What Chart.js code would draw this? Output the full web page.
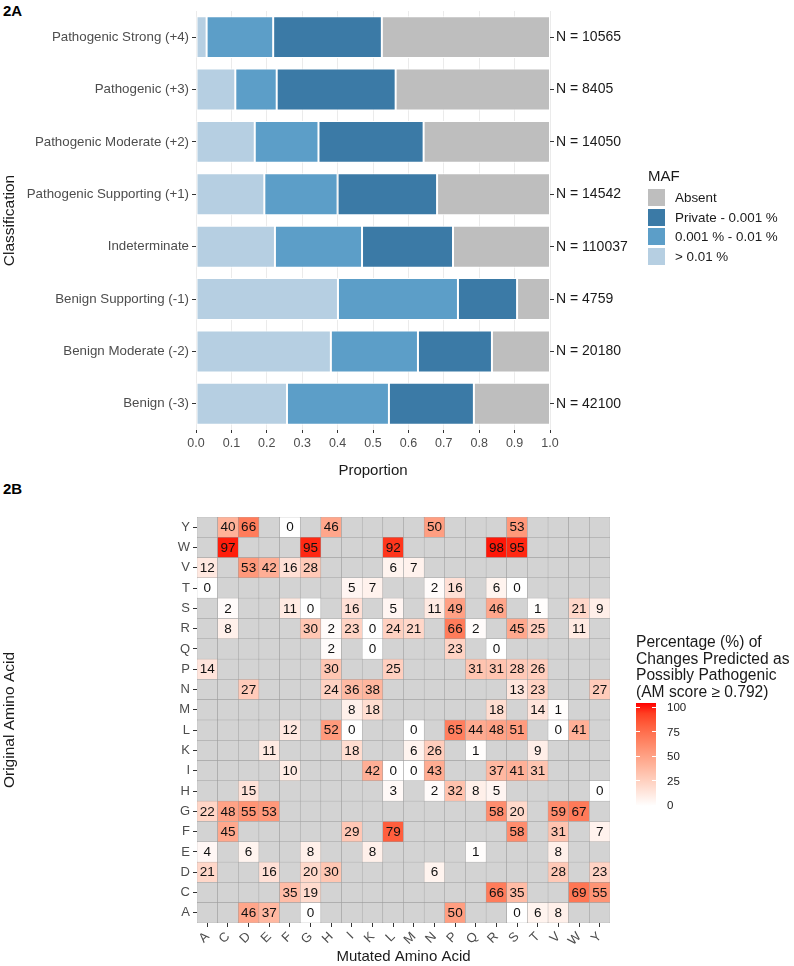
<!DOCTYPE html>
<html>
<head>
<meta charset="utf-8">
<script src="https://cdn.jsdelivr.net/npm/chart.js@4.4.0/dist/chart.umd.min.js"></script>
<style>
  body { margin: 0; background: #fff; font-family: "Liberation Sans", Arial, sans-serif; }
  #wrap { position: relative; width: 794px; height: 966px; overflow: hidden; }
  canvas { position: absolute; left: 0; }
  .tag { position: absolute; left: 3px; font-weight: bold; font-size: 15px; color: #000; }
  .leg { position: absolute; font-size: 13.4px; color: #1a1a1a; }
  .leg .ttl { font-size: 15px; margin-bottom: 4px; }
  .leg .row { display: flex; align-items: center; height: 19.5px; }
  .leg .box { width: 17px; height: 17px; margin-right: 10px; }
  #hmleg { position: absolute; left: 636px; top: 634px; font-size: 15.6px; line-height: 16.7px; color: #1a1a1a; }
  #bar { position: absolute; left: 636px; top: 703px; width: 20px; height: 103px; }
  .cbl { position: absolute; left: 667px; font-size: 11.5px; color: #1a1a1a; transform: translateY(-50%); }
</style>
</head>
<body>
<div id="wrap">
  <div class="tag" style="top:2px">2A</div>
  <div class="tag" style="top:480px">2B</div>
  <canvas id="chart_maf" width="794" height="480" style="top:0"></canvas>
  <canvas id="chart_am" width="794" height="486" style="top:480px"></canvas>
  <div class="leg" id="mafleg" style="left:648px;top:167px"><div class="ttl">MAF</div></div>
  <div id="hmleg">Percentage (%) of<br>Changes Predicted as<br>Possibly Pathogenic<br>(AM score ≥ 0.792)</div>
  <div id="bar"></div>
</div>
<script>
// ---- 2A: MAF proportions per classification ----
const classes = ['Pathogenic Strong (+4)', 'Pathogenic (+3)', 'Pathogenic Moderate (+2)', 'Pathogenic Supporting (+1)',
  'Indeterminate', 'Benign Supporting (-1)', 'Benign Moderate (-2)', 'Benign (-3)'];
const counts = [10565, 8405, 14050, 14542, 110037, 4759, 20180, 42100];
const mafHigh    = [0.030, 0.111, 0.166, 0.193, 0.223, 0.401, 0.381, 0.257]; // > 0.01 %
const mafMid     = [0.188, 0.117, 0.180, 0.207, 0.246, 0.339, 0.246, 0.288]; // 0.001 % - 0.01 %
const mafPrivate = [0.307, 0.336, 0.297, 0.281, 0.257, 0.167, 0.209, 0.240]; // Private - 0.001 %
const mafAbsent  = [0.475, 0.436, 0.357, 0.319, 0.274, 0.093, 0.164, 0.215];
const xTicks = [0, 0.1, 0.2, 0.3, 0.4, 0.5, 0.6, 0.7, 0.8, 0.9, 1.0];

// ---- 2B: % of changes predicted possibly pathogenic (null = no change) ----
const mutated  = ['A','C','D','E','F','G','H','I','K','L','M','N','P','Q','R','S','T','V','W','Y'];
const original = ['A','C','D','E','F','G','H','I','K','L','M','N','P','Q','R','S','T','V','W','Y']; // bottom -> top
const _ = null;
//            A  C  D  E  F  G  H  I  K  L  M  N  P  Q  R  S  T  V  W  Y
const pctA = [_, _,46,37, _, 0, _, _, _, _, _, _,50, _, _, 0, 6, 8, _, _];
const pctC = [_, _, _, _,35,19, _, _, _, _, _, _, _, _,66,35, _, _,69,55];
const pctD = [21,_, _,16, _,20,30, _, _, _, _, 6, _, _, _, _, _,28, _,23];
const pctE = [4, _, 6, _, _, 8, _, _, 8, _, _, _, _, 1, _, _, _, 8, _, _];
const pctF = [_,45, _, _, _, _, _,29, _,79, _, _, _, _, _,58, _,31, _, 7];
const pctG = [22,48,55,53,_, _, _, _, _, _, _, _, _, _,58,20, _,59,67, _];
const pctH = [_, _,15, _, _, _, _, _, _, 3, _, 2,32, 8, 5, _, _, _, _, 0];
const pctI = [_, _, _, _,10, _, _, _,42, 0, 0,43, _, _,37,41,31, _, _, _];
const pctK = [_, _, _,11, _, _, _,18, _, _, 6,26, _, 1, _, _, 9, _, _, _];
const pctL = [_, _, _, _,12, _,52, 0, _, _, 0, _,65,44,48,51, _, 0,41, _];
const pctM = [_, _, _, _, _, _, _, 8,18, _, _, _, _, _,18, _,14, 1, _, _];
const pctN = [_, _,27, _, _, _,24,36,38, _, _, _, _, _, _,13,23, _, _,27];
const pctP = [14,_, _, _, _, _,30, _, _,25, _, _, _,31,31,28,26, _, _, _];
const pctQ = [_, _, _, _, _, _, 2, _, 0, _, _, _,23, _, 0, _, _, _, _, _];
const pctR = [_, 8, _, _, _,30, 2,23, 0,24,21, _,66, 2, _,45,25, _,11, _];
const pctS = [_, 2, _, _,11, 0, _,16, _, 5, _,11,49, _,46, _, 1, _,21, 9];
const pctT = [0, _, _, _, _, _, _, 5, 7, _, _, 2,16, _, 6, 0, _, _, _, _];
const pctV = [12,_,53,42,16,28, _, _, _, 6, 7, _, _, _, _, _, _, _, _, _];
const pctW = [_,97, _, _, _,95, _, _, _,92, _, _, _, _,98,95, _, _, _, _];
const pctY = [_,40,66, _, 0, _,46, _, _, _, _,50, _, _, _,53, _, _, _, _];
const pctRows = [pctA,pctC,pctD,pctE,pctF,pctG,pctH,pctI,pctK,pctL,pctM,pctN,pctP,pctQ,pctR,pctS,pctT,pctV,pctW,pctY];
const legendTicks = [0, 25, 50, 75, 100];

Chart.defaults.font.family = '"Liberation Sans", Arial, sans-serif';
Chart.defaults.animation = false;
const cc = { axis: '#4d4d4d', dark: '#1a1a1a', tick: '#333333', grid: '#ebebeb' };
const mafCols = { high: '#b6cfe2', mid: '#5c9ec8', priv: '#3b7aa6', absent: '#bebebe' };

// white -> red ramp interpolated in CIELAB like ggplot's gradient
const lin = c => { c /= 255; return c <= 0.04045 ? c / 12.92 : Math.pow((c + 0.055) / 1.055, 2.4); };
const gam = c => { c = c <= 0.0031308 ? 12.92 * c : 1.055 * Math.pow(c, 1 / 2.4) - 0.055; return Math.round(Math.max(0, Math.min(1, c)) * 255); };
function toLab(r, g, b) {
  const R = lin(r), G = lin(g), B = lin(b);
  const X = (0.4124 * R + 0.3576 * G + 0.1805 * B) / 0.95047, Y = 0.2126 * R + 0.7152 * G + 0.0722 * B, Z = (0.0193 * R + 0.1192 * G + 0.9505 * B) / 1.08883;
  const f = t => t > 0.008856 ? Math.cbrt(t) : 7.787 * t + 16 / 116;
  return [116 * f(Y) - 16, 500 * (f(X) - f(Y)), 200 * (f(Y) - f(Z))];
}
function fromLab(L, a, b) {
  const fy = (L + 16) / 116, fx = fy + a / 500, fz = fy - b / 200;
  const inv = t => t * t * t > 0.008856 ? t * t * t : (t - 16 / 116) / 7.787;
  const X = inv(fx) * 0.95047, Y = inv(fy), Z = inv(fz) * 1.08883;
  return 'rgb(' + gam(3.2406 * X - 1.5372 * Y - 0.4986 * Z) + ',' + gam(-0.9689 * X + 1.8758 * Y + 0.0415 * Z) + ',' + gam(0.0557 * X - 0.2040 * Y + 1.0570 * Z) + ')';
}
const labLow = toLab(255, 255, 255), labHigh = toLab(255, 0, 0);
const ramp = v => { const t = v / 100; return fromLab(...labLow.map((l, i) => l + (labHigh[i] - l) * t)); };

// ---------------- 2A ----------------
const mafSets = [
  { label: '> 0.01 %', data: mafHigh, color: mafCols.high },
  { label: '0.001 % - 0.01 %', data: mafMid, color: mafCols.mid },
  { label: 'Private - 0.001 %', data: mafPrivate, color: mafCols.priv },
  { label: 'Absent', data: mafAbsent, color: mafCols.absent }
];
new Chart(document.getElementById('chart_maf').getContext('2d'), {
  type: 'bar',
  data: { labels: classes, datasets: mafSets.map(s => ({ label: s.label, data: s.data, backgroundColor: s.color,
    borderColor: '#ffffff', borderWidth: 1, borderSkipped: false, categoryPercentage: 0.8, barPercentage: 1 })) },
  options: {
    indexAxis: 'y', responsive: false,
    layout: { padding: { top: 9, left: 0, right: 0, bottom: 0 } },
    plugins: { legend: { display: false }, tooltip: { enabled: false } },
    scales: {
      x: { type: 'linear', stacked: true, min: 0, max: 1,
        afterBuildTicks: s => { s.ticks = xTicks.map(v => ({ value: v })); },
        afterFit: s => { s.height = 50; },
        ticks: { color: cc.axis, font: { size: 12.5 }, padding: 3, callback: v => v.toFixed(1) },
        grid: { color: cc.grid, tickColor: cc.tick, tickLength: 3 },
        border: { display: false },
        title: { display: true, text: 'Proportion', color: cc.dark, font: { size: 15 }, padding: { top: 0, bottom: 0 } } },
      y: { stacked: true,
        afterFit: s => { s.width = 196; },
        ticks: { color: cc.axis, font: { size: 13.3 }, padding: 3 },
        grid: { drawOnChartArea: false, offset: false, tickColor: cc.tick, tickLength: 4 },
        border: { display: false },
        title: { display: true, text: 'Classification', color: cc.dark, font: { size: 15.5 }, padding: 0 } },
      y2: { type: 'category', position: 'right', labels: counts.map(n => 'N = ' + n), offset: true,
        afterFit: s => { s.width = 244; },
        ticks: { color: cc.dark, font: { size: 14 }, padding: 2 },
        grid: { drawOnChartArea: false, offset: false, tickColor: cc.tick, tickLength: 4 },
        border: { display: false } }
    }
  }
});

// MAF legend (ggplot order: Absent on top)
const mafLeg = document.getElementById('mafleg');
mafSets.slice().reverse().forEach(s => {
  const r = document.createElement('div'); r.className = 'row';
  r.innerHTML = '<div class="box" style="background:' + s.color + '"></div><span>' + s.label + '</span>';
  mafLeg.appendChild(r);
});

// ---------------- 2B ----------------
const cellText = {
  id: 'cellText',
  afterDatasetsDraw(chart) {
    const { ctx, scales: { x, y } } = chart;
    ctx.save();
    ctx.font = '13.5px "Liberation Sans", Arial, sans-serif';
    ctx.fillStyle = '#111';
    ctx.textAlign = 'center'; ctx.textBaseline = 'middle';
    pctRows.forEach((row, r) => row.forEach((v, c) => {
      if (v === null) return;
      ctx.fillText(String(v), x.getPixelForValue(c), y.getPixelForValue(r + 0.5) + 0.5);
    }));
    ctx.restore();
  }
};
new Chart(document.getElementById('chart_am').getContext('2d'), {
  type: 'bar',
  data: { labels: mutated, datasets: original.map((aa, r) => ({
    label: aa,
    data: mutated.map(() => [r, r + 1]),
    backgroundColor: pctRows[r].map(v => v === null ? '#d3d3d3' : ramp(v)),
    borderColor: '#9b9b9b', borderWidth: 0.5, borderSkipped: false,
    grouped: false, categoryPercentage: 1, barPercentage: 1 })) },
  options: {
    responsive: false,
    layout: { padding: { top: 37, left: 0, right: 184, bottom: 0 } },
    plugins: { legend: { display: false }, tooltip: { enabled: false } },
    scales: {
      x: { type: 'category', offset: true,
        afterFit: s => { s.height = 43; },
        ticks: { color: cc.axis, font: { size: 13 }, maxRotation: 45, minRotation: 45, padding: 2, autoSkip: false },
        grid: { drawOnChartArea: false, offset: false, tickColor: cc.tick, tickLength: 4 },
        border: { display: false },
        title: { display: true, text: 'Mutated Amino Acid', color: cc.dark, font: { size: 15 }, padding: { top: 0, bottom: 0 } } },
      y: { type: 'linear', min: 0, max: original.length,
        afterBuildTicks: s => { s.ticks = original.map((_, i) => ({ value: i + 0.5 })); },
        afterFit: s => { s.width = 197; },
        ticks: { color: cc.axis, font: { size: 13 }, padding: 3, autoSkip: false, callback: v => original[Math.floor(v)] },
        grid: { drawOnChartArea: false, tickColor: cc.tick, tickLength: 4 },
        border: { display: false },
        title: { display: true, text: 'Original Amino Acid', color: cc.dark, font: { size: 15.5 }, padding: 0 } }
    }
  },
  plugins: [cellText]
});

// colour bar legend
const wrap = document.getElementById('wrap');
const bar = document.getElementById('bar');
bar.style.background = 'linear-gradient(to top,' + [0, 10, 20, 30, 40, 50, 60, 70, 80, 90, 100].map(v => ramp(v) + ' ' + v + '%').join(',') + ')';
const barTop = 707, barBottom = 805;
legendTicks.forEach(v => {
  const yy = barBottom - (barBottom - barTop) * v / 100;
  const l = document.createElement('div'); l.className = 'cbl'; l.style.top = yy + 'px'; l.textContent = v;
  wrap.appendChild(l);
  ['636px', '652px'].forEach(lx => {
    const t = document.createElement('div');
    t.style.cssText = 'position:absolute;left:' + lx + ';top:' + (yy - 0.5) + 'px;width:4px;height:1px;background:#fff;';
    wrap.appendChild(t);
  });
});
</script>
</body>
</html>
